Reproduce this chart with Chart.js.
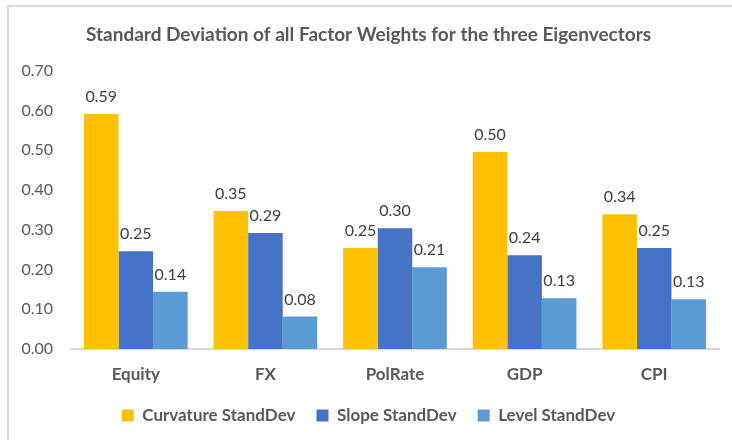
<!DOCTYPE html>
<html>
<head>
<meta charset="utf-8">
<script src="https://cdn.jsdelivr.net/npm/chart.js@4"></script>
<style>
  html, body { margin: 0; padding: 0; background: #fff; }
  #wrap { position: relative; width: 732px; height: 440px; overflow: hidden; }
  #frame { position: absolute; left: 7px; top: 5px; width: 800px; height: 500px;
           border-left: 2px solid #d9d9d9; border-top: 2px solid #d9d9d9; }
  canvas { position: absolute; left: 0; top: 0; }
</style>
</head>
<body>
<div id="wrap">
  <div id="frame"></div>
  <canvas id="chart" width="732" height="440"></canvas>
</div>
<script>
// chart data
var categories = ['Equity', 'FX', 'PolRate', 'GDP', 'CPI'];
var curvature = [0.591, 0.347, 0.254, 0.496, 0.339];
var slope = [0.246, 0.292, 0.304, 0.236, 0.254];
var level = [0.144, 0.082, 0.206, 0.128, 0.125];
var tickLabels = ['0.00', '0.10', '0.20', '0.30', '0.40', '0.50', '0.60', '0.70'];

var FONT = 'Lato, "Liberation Sans", sans-serif';

// draws the value above every bar
var valueLabels = {
  id: 'valueLabels',
  afterDatasetsDraw: function(chart) {
    var ctx = chart.ctx;
    ctx.save();
    ctx.font = '16px ' + FONT;
    ctx.fillStyle = '#404040';
    ctx.textAlign = 'center';
    ctx.textBaseline = 'bottom';
    chart.data.datasets.forEach(function(ds, i) {
      chart.getDatasetMeta(i).data.forEach(function(bar, j) {
        ctx.fillText(ds.data[j].toFixed(2), bar.x, bar.y - 9);
      });
    });
    ctx.restore();
  }
};

var ctx = document.getElementById('chart').getContext('2d');
var chart = new Chart(ctx, {
  type: 'bar',
  data: {
    labels: categories,
    datasets: [
      { label: 'Curvature StandDev', data: curvature, backgroundColor: '#ffc000' },
      { label: 'Slope StandDev', data: slope, backgroundColor: '#4472c4' },
      { label: 'Level StandDev', data: level, backgroundColor: '#5b9bd5' }
    ]
  },
  options: {
    responsive: false,
    animation: false,
    datasets: { bar: { categoryPercentage: 0.8, barPercentage: 1.0 } },
    layout: { padding: { left: 18, right: 13, top: 0, bottom: 6 } },
    plugins: {
      title: {
        display: true,
        text: 'Standard Deviation of all Factor Weights for the three Eigenvectors',
        color: '#595959',
        font: { family: FONT, size: 19, weight: 'bold' },
        padding: { top: 23, bottom: 25 }
      },
      legend: {
        position: 'bottom',
        labels: {
          boxWidth: 12,
          boxHeight: 12,
          color: '#595959',
          padding: 21,
          font: { family: FONT, size: 17, weight: 'bold' }
        }
      },
      tooltip: { enabled: false }
    },
    scales: {
      x: {
        grid: { display: false, drawTicks: false },
        border: { display: true, color: '#d9d9d9', width: 2 },
        // drop the extra padding chart.js puts under the labels
        afterFit: function(scale) { scale.height = 37; },
        ticks: {
          color: '#595959',
          padding: 15,
          font: { family: FONT, size: 17, weight: 'bold' }
        }
      },
      y: {
        min: 0,
        max: 0.7,
        grid: { display: false, drawTicks: false },
        border: { display: false },
        afterFit: function(scale) { scale.width = 53; },
        ticks: {
          stepSize: 0.1,
          color: '#595959',
          padding: 18,
          font: { family: FONT, size: 16 },
          callback: function(v, i) { return tickLabels[i]; }
        }
      }
    }
  },
  plugins: [valueLabels]
});
</script>
</body>
</html>
